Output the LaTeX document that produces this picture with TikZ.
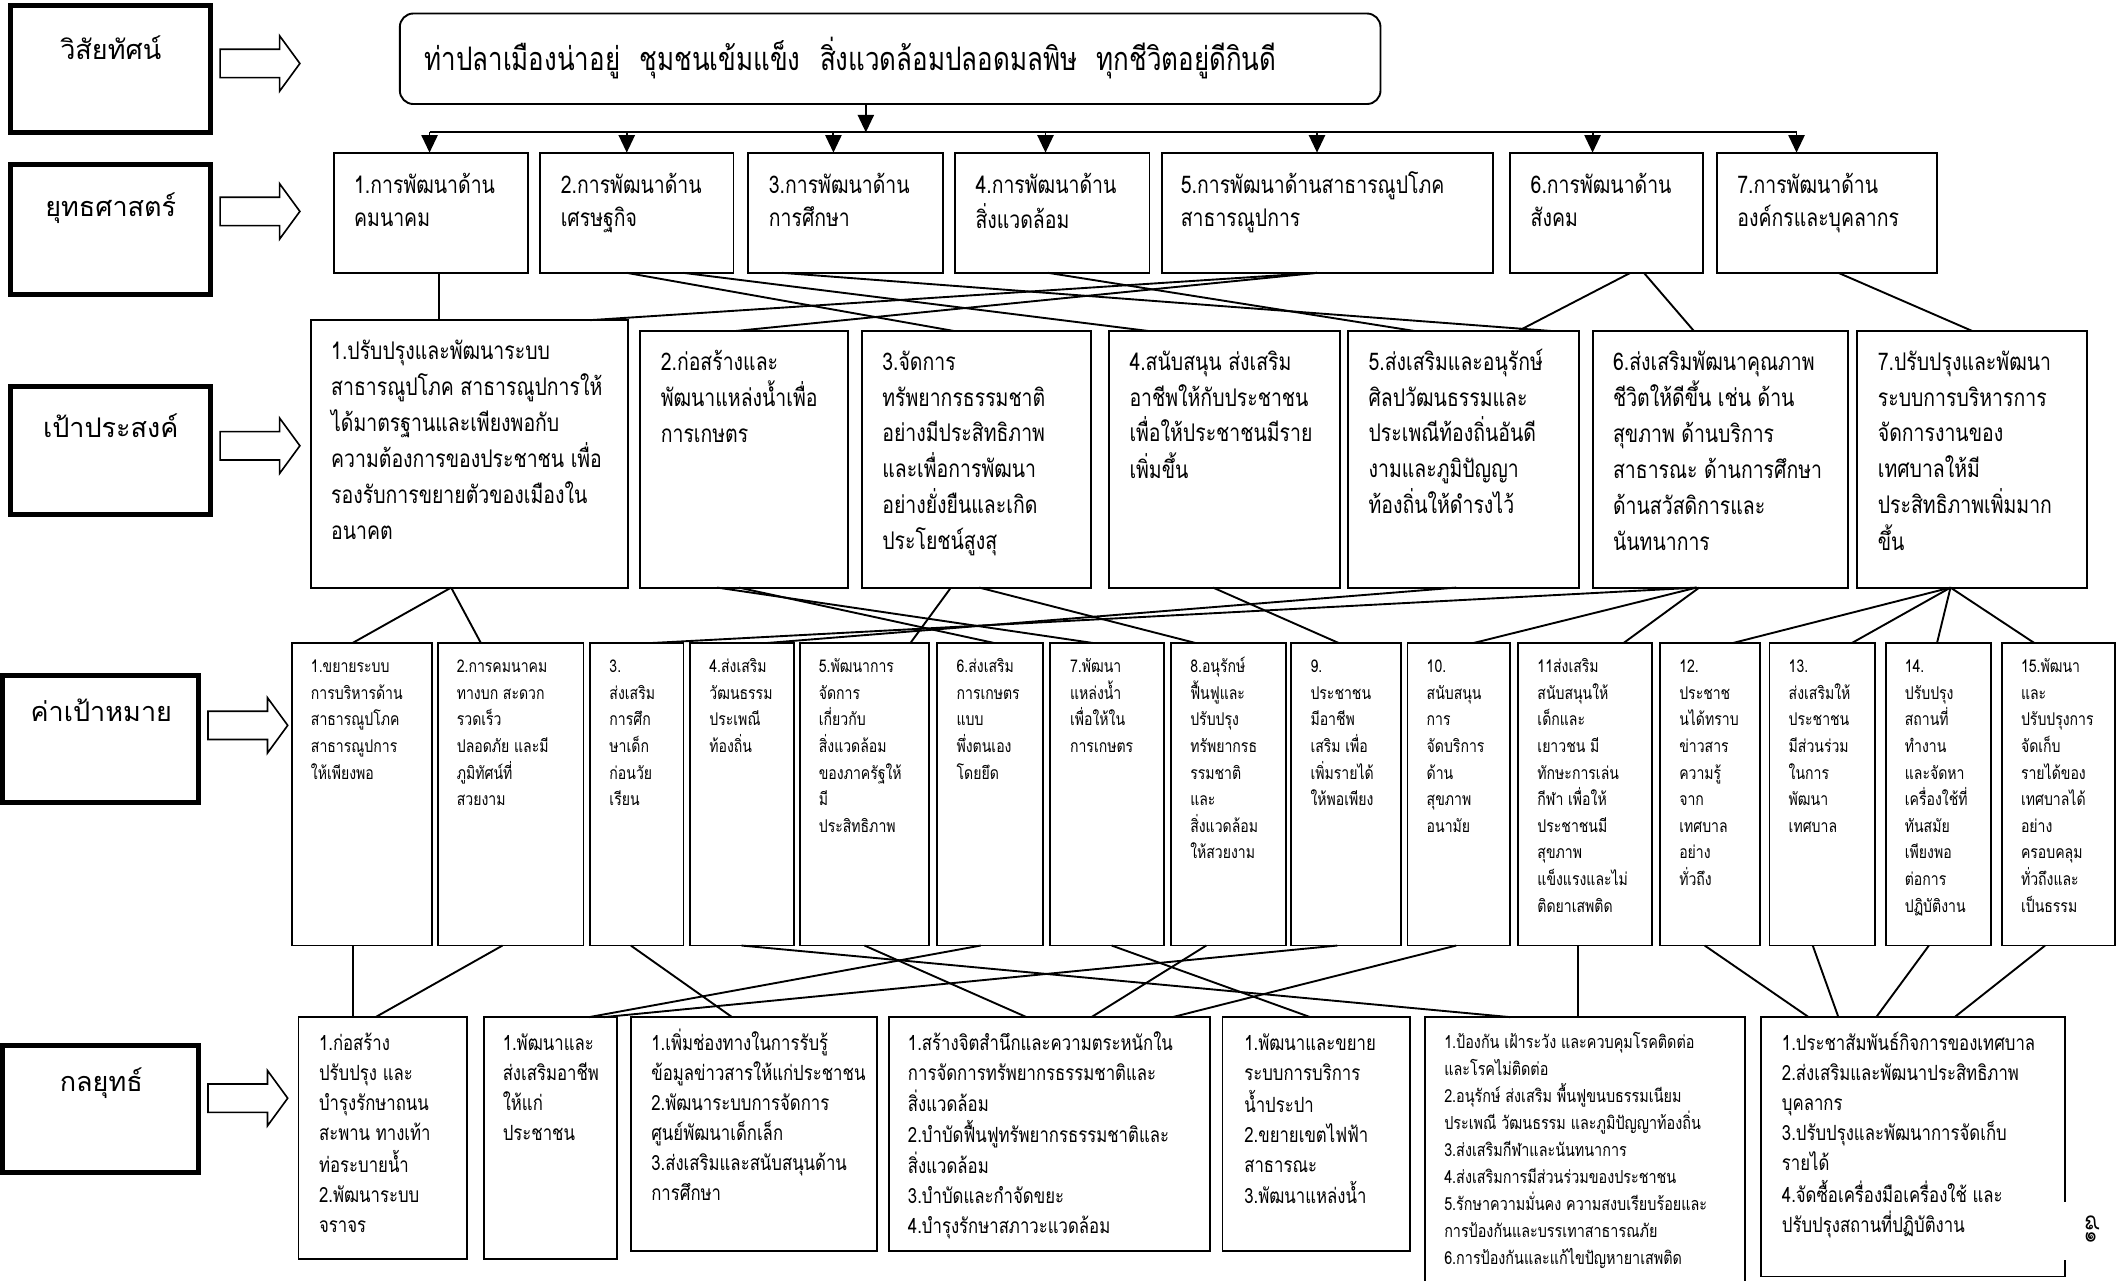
\documentclass[tikz,border=0pt]{standalone}
\usepackage{fontspec}
\usetikzlibrary{arrows.meta}
\newfontfamily\thaiL[Script=Thai]{Loma}
\newfontfamily\thaiN[Script=Thai,FakeStretch=0.8]{Loma}
\newcommand\bx[6][box]{\node[#1,minimum width={(#5)-(#3)},minimum height={(#6)-(#4)}] (#2) at ({((#3)+(#5))/2},{((#4)+(#6))/2}) {};}
\newcommand\harrow[2]{\draw[harr] (#1,{#2-10.5}) -- ({#1+44},{#2-10.5}) -- ({#1+44},{#2-20.5}) -- ({#1+59},#2) -- ({#1+44},{#2+20.5}) -- ({#1+44},{#2+10.5}) -- (#1,{#2+10.5}) -- cycle;}
\newcommand\ml[1]{\begin{tabular}[t]{@{}l@{}}#1\end{tabular}}
\tikzset{
  box/.style={draw,line width=1.4pt,inner sep=0pt,outer sep=0pt},
  lbl/.style={draw,line width=3.6pt,inner sep=0pt,outer sep=0pt},
  vbox/.style={box,rounded corners=10pt},
  harr/.style={line width=1.2pt,line join=miter},
  conn/.style={line width=1.4pt},
  darr/.style={line width=1.4pt,-{Triangle[width=12pt,length=13pt]}},
  tl/.style={anchor=base,inner sep=0pt,font=\thaiL\fontsize{20}{24}\selectfont},
  tv/.style={anchor=base west,inner sep=0pt,font=\thaiN\fontsize{24}{28}\selectfont},
  t2/.style={anchor=base west,inner sep=0pt,font=\thaiN\fontsize{18}{24.7}\selectfont},
  t3/.style={anchor=base west,inner sep=0pt,font=\thaiN\fontsize{18}{26.6}\selectfont},
  t4/.style={anchor=base west,inner sep=0pt,font=\thaiN\fontsize{13}{19.7}\selectfont},
  t5/.style={anchor=base west,inner sep=0pt,font=\thaiN\fontsize{15.5}{22.2}\selectfont},
  t5s/.style={anchor=base west,inner sep=0pt,font=\thaiN\fontsize{13.3}{20}\selectfont},
}
\begin{document}
\begin{tikzpicture}[x=1pt,y=-1pt]
\path[use as bounding box] (0,0) rectangle (1568,948);
\clip (0,0) rectangle (1568,948);
\fill[white] (0,0) rectangle (1568,948);
% ---------- left labels ----------
\bx[lbl]{L1}{8}{4}{156}{98}
\bx[lbl]{L2}{8}{122}{156}{218}
\bx[lbl]{L3}{8}{286}{156}{381}
\bx[lbl]{L4}{2}{500}{147}{594}
\bx[lbl]{L5}{2}{774}{147}{868}
\node[tl] (L1t) at (82,44) {วิสัยทัศน์};
\node[tl] (L2t) at (82,160) {ยุทธศาสตร์};
\node[tl] (L3t) at (82,324) {เป้าประสงค์};
\node[tl] (L4t) at (75,534) {ค่าเป้าหมาย};
\node[tl] (L5t) at (75,808) {กลยุทธ์};
\harrow{163}{47}
\harrow{163}{156.5}
\harrow{163}{330}
\harrow{154}{537}
\harrow{154}{813}
% ---------- vision ----------
\bx[vbox]{vis}{296}{10}{1022}{77}
\node[tv] (vist) at (314,52) {ท่าปลาเมืองน่าอยู่\hspace{0.6em}ชุมชนเข้มแข็ง\hspace{0.6em}สิ่งแวดล้อมปลอดมลพิษ\hspace{0.6em}ทุกชีวิตอยู่ดีกินดี};
% ---------- row 2 ----------
\bx{r2b1}{247}{113}{391}{202}
\bx{r2b2}{400}{113}{543}{202}
\bx{r2b3}{554}{113}{698}{202}
\bx{r2b4}{707}{113}{851}{202}
\bx{r2b5}{860}{113}{1105}{202}
\bx{r2b6}{1118}{113}{1261}{202}
\bx{r2b7}{1271}{113}{1434}{202}
\node[t2] (r2t1) at (262,143) {\ml{1.การพัฒนาด้าน\\คมนาคม}};
\node[t2] (r2t2) at (415,143) {\ml{2.การพัฒนาด้าน\\เศรษฐกิจ}};
\node[t2] (r2t3) at (569,143) {\ml{3.การพัฒนาด้าน\\การศึกษา}};
\node[t2] (r2t4) at (722,143) {\ml{4.การพัฒนาด้าน\\สิ่งแวดล้อม}};
\node[t2] (r2t5) at (874,143) {\ml{5.การพัฒนาด้านสาธารณูปโภค\\สาธารณูปการ}};
\node[t2] (r2t6) at (1133,143) {\ml{6.การพัฒนาด้าน\\สังคม}};
\node[t2] (r2t7) at (1286,143) {\ml{7.การพัฒนาด้าน\\องค์กรและบุคลากร}};
% arrows from vision
\coordinate (barL) at (318,98);
\coordinate (barR) at (1330,98);
\draw[darr] (641,0 |- vis.south) -- (641,0 |- barL);
\draw[conn] (barL) -- (barR);
\draw[darr] (318,0 |- barL) -- (318,0 |- r2b1.north);
\draw[darr] (464,0 |- barL) -- (464,0 |- r2b2.north);
\draw[darr] (617,0 |- barL) -- (617,0 |- r2b3.north);
\draw[darr] (774,0 |- barL) -- (774,0 |- r2b4.north);
\draw[darr] (975,0 |- barL) -- (975,0 |- r2b5.north);
\draw[darr] (1179,0 |- barL) -- (1179,0 |- r2b6.north);
\draw[darr] (1330,0 |- barL) -- (1330,0 |- r2b7.north);
% ---------- row 3 ----------
\bx{r3b1}{230}{237}{465}{435}
\bx{r3b2}{474}{245}{628}{435}
\bx{r3b3}{638}{245}{808}{435}
\bx{r3b4}{821}{245}{992}{435}
\bx{r3b5}{998}{245}{1169}{435}
\bx{r3b6}{1179}{245}{1368}{435}
\bx{r3b7}{1375}{245}{1545}{435}
\node[t3] (r3t1) at (245,266.5) {\ml{1.ปรับปรุงและพัฒนาระบบ\\สาธารณูปโภค สาธารณูปการให้\\ได้มาตรฐานและเพียงพอกับ\\ความต้องการของประชาชน เพื่อ\\รองรับการขยายตัวของเมืองใน\\อนาคต}};
\node[t3] (r3t2) at (489,274) {\ml{2.ก่อสร้างและ\\พัฒนาแหล่งน้ำเพื่อ\\การเกษตร}};
\node[t3] (r3t3) at (653,274) {\ml{3.จัดการ\\ทรัพยากรธรรมชาติ\\อย่างมีประสิทธิภาพ\\และเพื่อการพัฒนา\\อย่างยั่งยืนและเกิด\\ประโยชน์สูงสุ}};
\node[t3] (r3t4) at (836,274) {\ml{4.สนับสนุน ส่งเสริม\\อาชีพให้กับประชาชน\\เพื่อให้ประชาชนมีราย\\เพิ่มขึ้น}};
\node[t3] (r3t5) at (1013,274) {\ml{5.ส่งเสริมและอนุรักษ์\\ศิลปวัฒนธรรมและ\\ประเพณีท้องถิ่นอันดี\\งามและภูมิปัญญา\\ท้องถิ่นให้ดำรงไว้}};
\node[t3] (r3t6) at (1194,274) {\ml{6.ส่งเสริมพัฒนาคุณภาพ\\ชีวิตให้ดีขึ้น เช่น ด้าน\\สุขภาพ ด้านบริการ\\สาธารณะ ด้านการศึกษา\\ด้านสวัสดิการและ\\นันทนาการ}};
\node[t3] (r3t7) at (1390,274) {\ml{7.ปรับปรุงและพัฒนา\\ระบบการบริหารการ\\จัดการงานของ\\เทศบาลให้มี\\ประสิทธิภาพเพิ่มมาก\\ขึ้น}};
% row2 -> row3
\draw[conn] (325,0 |- r2b1.south) -- (325,0 |- r3b1.north);
\draw[conn] (975,0 |- r2b5.south) -- (437,0 |- r3b1.north);
\draw[conn] (975,0 |- r2b5.south) -- (545,0 |- r3b2.north);
\draw[conn] (464,0 |- r2b2.south) -- (706,0 |- r3b3.north);
\draw[conn] (506,0 |- r2b2.south) -- (850,0 |- r3b4.north);
\draw[conn] (579,0 |- r2b3.south) -- (1148,0 |- r3b5.north);
\draw[conn] (776,0 |- r2b4.south) -- (1047,0 |- r3b5.north);
\draw[conn] (1207,0 |- r2b6.south) -- (1124,0 |- r3b5.north);
\draw[conn] (1217,0 |- r2b6.south) -- (1254,0 |- r3b6.north);
\draw[conn] (1361,0 |- r2b7.south) -- (1460,0 |- r3b7.north);
% ---------- row 4 ----------
\bx{r4b1}{216}{476}{320}{700}
\bx{r4b2}{324}{476}{432}{700}
\bx{r4b3}{437}{476}{506}{700}
\bx{r4b4}{511}{476}{588}{700}
\bx{r4b5}{592}{476}{688}{700}
\bx{r4b6}{694}{476}{772}{700}
\bx{r4b7}{777}{476}{862}{700}
\bx{r4b8}{867}{476}{952}{700}
\bx{r4b9}{956}{476}{1037}{700}
\bx{r4b10}{1042}{476}{1118}{700}
\bx{r4b11}{1124}{476}{1223}{700}
\bx{r4b12}{1229}{476}{1303}{700}
\bx{r4b13}{1310}{476}{1388}{700}
\bx{r4b14}{1396}{476}{1474}{700}
\bx{r4b15}{1482}{476}{1566}{700}
\node[t4] (r4t1) at (230,498) {\ml{1.ขยายระบบ\\การบริหารด้าน\\สาธารณูปโภค\\สาธารณูปการ\\ให้เพียงพอ}};
\node[t4] (r4t2) at (338,498) {\ml{2.การคมนาคม\\ทางบก สะดวก\\รวดเร็ว\\ปลอดภัย และมี\\ภูมิทัศน์ที่\\สวยงาม}};
\node[t4] (r4t3) at (451,498) {\ml{3.\\ส่งเสริม\\การศึก\\ษาเด็ก\\ก่อนวัย\\เรียน}};
\node[t4] (r4t4) at (525,498) {\ml{4.ส่งเสริม\\วัฒนธรรม\\ประเพณี\\ท้องถิ่น}};
\node[t4] (r4t5) at (606,498) {\ml{5.พัฒนาการ\\จัดการ\\เกี่ยวกับ\\สิ่งแวดล้อม\\ของภาครัฐให้\\มี\\ประสิทธิภาพ}};
\node[t4] (r4t6) at (708,498) {\ml{6.ส่งเสริม\\การเกษตร\\แบบ\\พึ่งตนเอง\\โดยยึด}};
\node[t4] (r4t7) at (792,498) {\ml{7.พัฒนา\\แหล่งน้ำ\\เพื่อให้ใน\\การเกษตร}};
\node[t4] (r4t8) at (881,498) {\ml{8.อนุรักษ์\\ฟื้นฟูและ\\ปรับปรุง\\ทรัพยากรธ\\รรมชาติ\\และ\\สิ่งแวดล้อม\\ให้สวยงาม}};
\node[t4] (r4t9) at (970,498) {\ml{9.\\ประชาชน\\มีอาชีพ\\เสริม เพื่อ\\เพิ่มรายได้\\ให้พอเพียง}};
\node[t4] (r4t10) at (1056,498) {\ml{10.\\สนับสนุน\\การ\\จัดบริการ\\ด้าน\\สุขภาพ\\อนามัย}};
\node[t4] (r4t11) at (1138,498) {\ml{11ส่งเสริม\\สนับสนุนให้\\เด็กและ\\เยาวชน มี\\ทักษะการเล่น\\กีฬา เพื่อให้\\ประชาชนมี\\สุขภาพ\\แข็งแรงและไม่\\ติดยาเสพติด}};
\node[t4] (r4t12) at (1243,498) {\ml{12.\\ประชาช\\นได้ทราบ\\ข่าวสาร\\ความรู้\\จาก\\เทศบาล\\อย่าง\\ทั่วถึง}};
\node[t4] (r4t13) at (1324,498) {\ml{13.\\ส่งเสริมให้\\ประชาชน\\มีส่วนร่วม\\ในการ\\พัฒนา\\เทศบาล}};
\node[t4] (r4t14) at (1410,498) {\ml{14.\\ปรับปรุง\\สถานที่\\ทำงาน\\และจัดหา\\เครื่องใช้ที่\\ทันสมัย\\เพียงพอ\\ต่อการ\\ปฏิบัติงาน}};
\node[t4] (r4t15) at (1496,498) {\ml{15.พัฒนา\\และ\\ปรับปรุงการ\\จัดเก็บ\\รายได้ของ\\เทศบาลได้\\อย่าง\\ครอบคลุม\\ทั่วถึงและ\\เป็นธรรม}};
% row3 -> row4
\draw[conn] (334,0 |- r3b1.south) -- (261,0 |- r4b1.north);
\draw[conn] (334,0 |- r3b1.south) -- (356,0 |- r4b2.north);
\draw[conn] (531,0 |- r3b2.south) -- (809,0 |- r4b7.north);
\draw[conn] (547,0 |- r3b2.south) -- (736,0 |- r4b6.north);
\draw[conn] (704,0 |- r3b3.south) -- (674,0 |- r4b5.north);
\draw[conn] (725,0 |- r3b3.south) -- (885,0 |- r4b8.north);
\draw[conn] (898,0 |- r3b4.south) -- (991,0 |- r4b9.north);
\draw[conn] (1078,0 |- r3b5.south) -- (568,0 |- r4b4.north);
\draw[conn] (1256,0 |- r3b6.south) -- (483,0 |- r4b3.north);
\draw[conn] (1256,0 |- r3b6.south) -- (1091,0 |- r4b10.north);
\draw[conn] (1258,0 |- r3b6.south) -- (1202,0 |- r4b11.north);
\draw[conn] (1444,0 |- r3b7.south) -- (1283,0 |- r4b12.north);
\draw[conn] (1444,0 |- r3b7.south) -- (1371,0 |- r4b13.north);
\draw[conn] (1444,0 |- r3b7.south) -- (1434,0 |- r4b14.north);
\draw[conn] (1444,0 |- r3b7.south) -- (1506,0 |- r4b15.north);
% ---------- row 5 ----------
\bx{r5b1}{221}{753}{346}{932}
\bx{r5b2}{358}{753}{457}{932}
\bx{r5b3}{467}{753}{649}{926}
\bx{r5b4}{658}{753}{896}{926}
\bx{r5b5}{905}{753}{1044}{926}
\bx{r5b6}{1055}{753}{1292}{962}
\bx{r5b7}{1304}{753}{1529}{945}
\node[t5] (r5t1) at (236,778) {\ml{1.ก่อสร้าง\\ปรับปรุง และ\\บำรุงรักษาถนน\\สะพาน ทางเท้า\\ท่อระบายน้ำ\\2.พัฒนาระบบ\\จราจร}};
\node[t5] (r5t2) at (372,778) {\ml{1.พัฒนาและ\\ส่งเสริมอาชีพ\\ให้แก่\\ประชาชน}};
\node[t5] (r5t3) at (482,778) {\ml{1.เพิ่มช่องทางในการรับรู้\\ข้อมูลข่าวสารให้แก่ประชาชน\\2.พัฒนาระบบการจัดการ\\ศูนย์พัฒนาเด็กเล็ก\\3.ส่งเสริมและสนับสนุนด้าน\\การศึกษา}};
\node[t5] (r5t4) at (672,778) {\ml{1.สร้างจิตสำนึกและความตระหนักใน\\การจัดการทรัพยากรธรรมชาติและ\\สิ่งแวดล้อม\\2.บำบัดฟื้นฟูทรัพยากรธรรมชาติและ\\สิ่งแวดล้อม\\3.บำบัดและกำจัดขยะ\\4.บำรุงรักษาสภาวะแวดล้อม}};
\node[t5] (r5t5) at (921,778) {\ml{1.พัฒนาและขยาย\\ระบบการบริการ\\น้ำประปา\\2.ขยายเขตไฟฟ้า\\สาธารณะ\\3.พัฒนาแหล่งน้ำ}};
\node[t5s] (r5t6) at (1069,776) {\ml{1.ป้องกัน เฝ้าระวัง และควบคุมโรคติดต่อ\\และโรคไม่ติดต่อ\\2.อนุรักษ์ ส่งเสริม พื้นฟูขนบธรรมเนียม\\ประเพณี วัฒนธรรม และภูมิปัญญาท้องถิ่น\\3.ส่งเสริมกีฬาและนันทนาการ\\4.ส่งเสริมการมีส่วนร่วมของประชาชน\\5.รักษาความมั่นคง ความสงบเรียบร้อยและ\\การป้องกันและบรรเทาสาธารณภัย\\6.การป้องกันและแก้ไขปัญหายาเสพติด}};
\node[t5] (r5t7) at (1319,778) {\ml{1.ประชาสัมพันธ์กิจการของเทศบาล\\2.ส่งเสริมและพัฒนาประสิทธิภาพ\\บุคลากร\\3.ปรับปรุงและพัฒนาการจัดเก็บ\\รายได้\\4.จัดซื้อเครื่องมือเครื่องใช้ และ\\ปรับปรุงสถานที่ปฏิบัติงาน}};
% row4 -> row5
\draw[conn] (261,0 |- r4b1.south) -- (261,0 |- r5b1.north);
\draw[conn] (372,0 |- r4b2.south) -- (278,0 |- r5b1.north);
\draw[conn] (467,0 |- r4b3.south) -- (542,0 |- r5b3.north);
\draw[conn] (549,0 |- r4b4.south) -- (1118,0 |- r5b6.north);
\draw[conn] (640,0 |- r4b5.south) -- (760,0 |- r5b4.north);
\draw[conn] (726,0 |- r4b6.south) -- (436,0 |- r5b2.north);
\draw[conn] (823,0 |- r4b7.south) -- (970,0 |- r5b5.north);
\draw[conn] (893,0 |- r4b8.south) -- (808,0 |- r5b4.north);
\draw[conn] (990,0 |- r4b9.south) -- (447,0 |- r5b2.north);
\draw[conn] (1078,0 |- r4b10.south) -- (868,0 |- r5b4.north);
\draw[conn] (1168,0 |- r4b11.south) -- (1168,0 |- r5b6.north);
\draw[conn] (1262,0 |- r4b12.south) -- (1339,0 |- r5b7.north);
\draw[conn] (1342,0 |- r4b13.south) -- (1361,0 |- r5b7.north);
\draw[conn] (1428,0 |- r4b14.south) -- (1389,0 |- r5b7.north);
\draw[conn] (1514,0 |- r4b15.south) -- (1447,0 |- r5b7.north);
% page number
\fill[white] (1523,890) rectangle (1562,933);
\node[rotate=-90,inner sep=0pt,font=\thaiL\fontsize{16}{16}\selectfont] (pg) at (1549,910) {๘๑};
\end{tikzpicture}
\end{document}
